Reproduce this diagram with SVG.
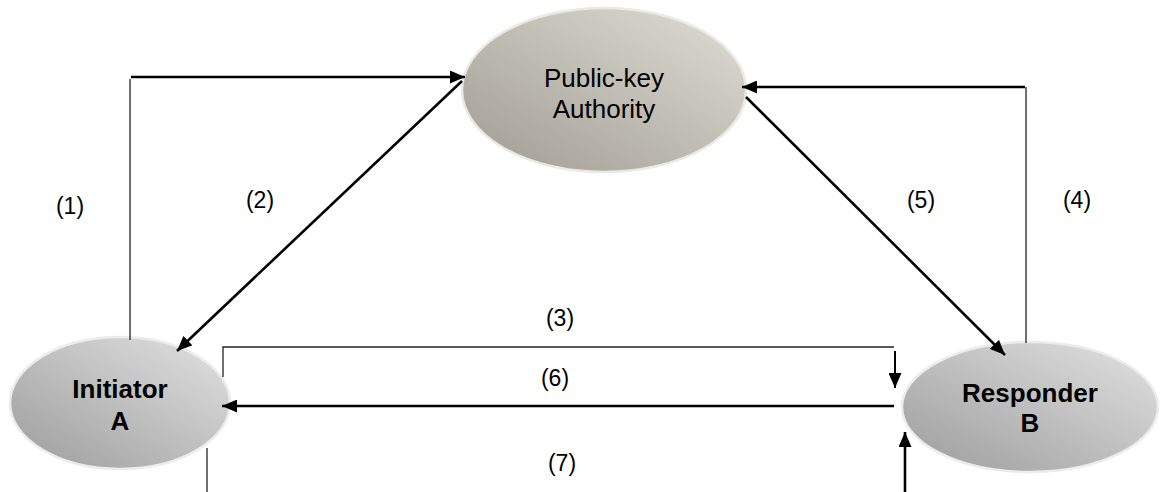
<svg xmlns="http://www.w3.org/2000/svg" width="1160" height="492" viewBox="0 0 1160 492">
<defs>
<linearGradient id="gPKA" x1="1" y1="0" x2="0" y2="1">
<stop offset="0" stop-color="#e0ddd4"/>
<stop offset="1" stop-color="#a09c94"/>
</linearGradient>
<linearGradient id="gNode" x1="1" y1="0" x2="0" y2="1">
<stop offset="0" stop-color="#e2e2e2"/>
<stop offset="1" stop-color="#9c9c9c"/>
</linearGradient>
<marker id="ah" viewBox="0 0 15 13" refX="15" refY="6.5" markerWidth="15" markerHeight="13" markerUnits="userSpaceOnUse" orient="auto">
<path d="M0,0 L15,6.5 L0,13 Z" fill="#000"/>
</marker>
</defs>
<style>
.thin{fill:none;stroke:#222;stroke-width:1.3}
.thick{fill:none;stroke:#000;stroke-width:2.6}
.lbl{font-family:"Liberation Sans",Arial,sans-serif;font-size:23px;fill:#000;text-anchor:middle}
.ntxt{font-family:"Liberation Sans",Arial,sans-serif;font-size:26px;fill:#000;text-anchor:middle}
.btxt{font-family:"Liberation Sans",Arial,sans-serif;font-size:26px;font-weight:bold;fill:#000;text-anchor:middle}
.node{stroke-width:2.5}
</style>
<rect width="1160" height="492" fill="#fff"/>
<g id="labels">
<text class="lbl" x="70" y="214">(1)</text>
<text class="lbl" x="260" y="208">(2)</text>
<text class="lbl" x="560" y="326">(3)</text>
<text class="lbl" x="1077" y="208">(4)</text>
<text class="lbl" x="921" y="208">(5)</text>
<text class="lbl" x="555" y="386">(6)</text>
<text class="lbl" x="562" y="471">(7)</text>
</g>
<g id="pka">
<ellipse class="node" cx="604" cy="90" rx="142" ry="82" fill="url(#gPKA)" stroke="#ebe9e2"/>
<text class="ntxt" x="604" y="87">Public-key</text>
<text class="ntxt" x="604" y="118">Authority</text>
</g>
<g id="initiator">
<ellipse class="node" cx="120" cy="403" rx="110" ry="66" fill="url(#gNode)" stroke="#ececec"/>
<text class="btxt" x="120" y="398">Initiator</text>
<text class="btxt" x="120" y="430">A</text>
</g>
<g id="responder">
<ellipse class="node" cx="1030" cy="407" rx="128" ry="65" fill="url(#gNode)" stroke="#ececec"/>
<text class="btxt" x="1030" y="402">Responder</text>
<text class="btxt" x="1030" y="432">B</text>
</g>
<g id="connectors">
<path class="thin" d="M130,340 V79"/>
<path class="thick" d="M131,77 H465" marker-end="url(#ah)"/>
<path class="thick" d="M462,81 L177,351" marker-end="url(#ah)"/>
<path class="thin" d="M223,377 V347 H894"/>
<path class="thick" d="M895,351 V388" style="stroke-width:2" marker-end="url(#ah)"/>
<path class="thin" d="M1026,343 V87"/>
<path class="thick" d="M1025,87 H742" marker-end="url(#ah)"/>
<path class="thick" d="M746,97 L1005,355" marker-end="url(#ah)"/>
<path class="thick" d="M894,406 H222" marker-end="url(#ah)"/>
<path class="thin" d="M207,448 V492"/>
<path class="thick" d="M905,492 V432" marker-end="url(#ah)"/>
</g>
</svg>
